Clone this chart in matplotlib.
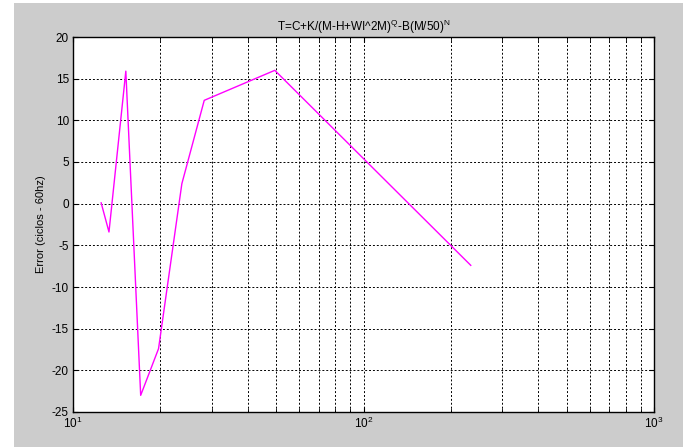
import numpy as np
import matplotlib.pyplot as plt
from matplotlib.patches import Rectangle

plt.rcParams['font.family'] = ['Liberation Sans', 'DejaVu Sans']
plt.rcParams['axes.unicode_minus'] = False

# datos
m = [12.5, 13.3, 15.2, 17.1, 19.7, 23.7, 28.3, 49.5, 234]
error = [0.1, -3.4, 15.9, -23.0, -17.4, 2.4, 12.4, 16.0, -7.4]

fig = plt.figure(figsize=(6.83, 4.47), dpi=100, facecolor='white')
fig.patches.append(Rectangle((14/683, 0), 1, 1 - 3/447, transform=fig.transFigure,
                             facecolor='#cccccc', edgecolor='none', zorder=-10))
ax = fig.add_axes([73/683, 1 - 412/447, 581/683, 375/447])
ax.set_facecolor('white')

ax.plot(m, error, color='#ff00ff', lw=1)
ax.set_xscale('log')
ax.set_xlim(10, 1000)
ax.set_ylim(-25, 20)
ax.set_yticks(np.arange(-25, 21, 5))

ax.grid(True, which='major', color='black', ls=(0, (2, 2)), lw=0.7)
ax.grid(True, which='minor', axis='x', color='black', ls=(0, (2, 2)), lw=0.7)
ax.tick_params(which='both', direction='in', top=True, right=True, labelsize=8.5, pad=3)
ax.tick_params(which='minor', length=3)
for s in ax.spines.values():
    s.set_linewidth(1)

ax.set_ylabel('Error (ciclos - 60hz)', fontsize=8)
ax.set_title(r'T=C+K/(M-H+WI^2M)$^\mathregular{Q}$-B(M/50)$^\mathregular{N}$', fontsize=8.5, pad=4)

plt.savefig('out.png', dpi=100)
